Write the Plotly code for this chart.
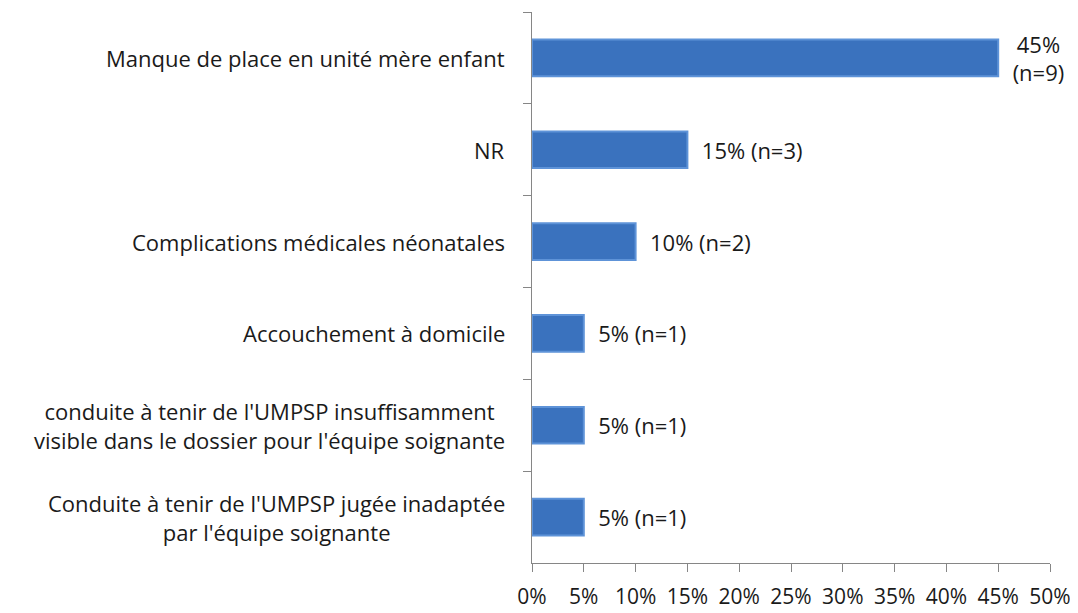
import plotly.graph_objects as go

categories = [
    "Manque de place en unité mère enfant",
    "NR",
    "Complications médicales néonatales",
    "Accouchement à domicile",
    "conduite à tenir de l'UMPSP insuffisamment<br>visible dans le dossier pour l'équipe soignante",
    "Conduite à tenir de l'UMPSP jugée inadaptée<br>par l'équipe soignante",
]
percent = [45, 15, 10, 5, 5, 5]
counts = [9, 3, 2, 1, 1, 1]
xtick_vals = [0, 5, 10, 15, 20, 25, 30, 35, 40, 45, 50]
xtick_text = [f"{v}%" for v in xtick_vals]

PAD = "\u00a0\u00a0"
labels = [f"{PAD}{p}%<br>{PAD}(n={n})" if p >= 40 else f"{PAD}{p}% (n={n})" for p, n in zip(percent, counts)]

FONT = "Open Sans"
FS = 22
TXT = "#1a1a1a"
AXIS = "#868686"

fig = go.Figure()
fig.add_trace(go.Bar(
    y=categories, x=percent, orientation="h",
    marker=dict(color="#3A72BE", line=dict(color="#5E93D8", width=2)),
    text=labels, textposition="outside", cliponaxis=False, constraintext="none",
    textfont=dict(family=FONT, size=FS, color=TXT),
    width=0.4,
))

for c in categories:
    fig.add_annotation(
        x=0, xref="paper", y=c, yref="y", xanchor="right", xshift=-25,
        text=c, showarrow=False, align="center",
        font=dict(family=FONT, size=FS, color=TXT),
    )

fig.update_layout(
    width=1070, height=605,
    margin=dict(l=524, r=28, t=4, b=50),
    plot_bgcolor="white", paper_bgcolor="white",
    showlegend=False,
    xaxis=dict(
        range=[0, 50], tickvals=xtick_vals, ticktext=xtick_text,
        showgrid=False, zeroline=False, automargin=False,
        showline=True, linecolor=AXIS, linewidth=1,
        ticks="outside", ticklen=8, tickcolor=AXIS,
        tickfont=dict(family=FONT, size=21, color=TXT),
        ticklabelstandoff=7,
    ),
    yaxis=dict(
        autorange="reversed", showticklabels=False, automargin=False,
        showgrid=False, zeroline=False,
        showline=True, linecolor=AXIS, linewidth=1,
        ticks="outside", ticklen=8, tickcolor=AXIS, tickson="boundaries",
    ),
)

fig.write_html("out.html")
